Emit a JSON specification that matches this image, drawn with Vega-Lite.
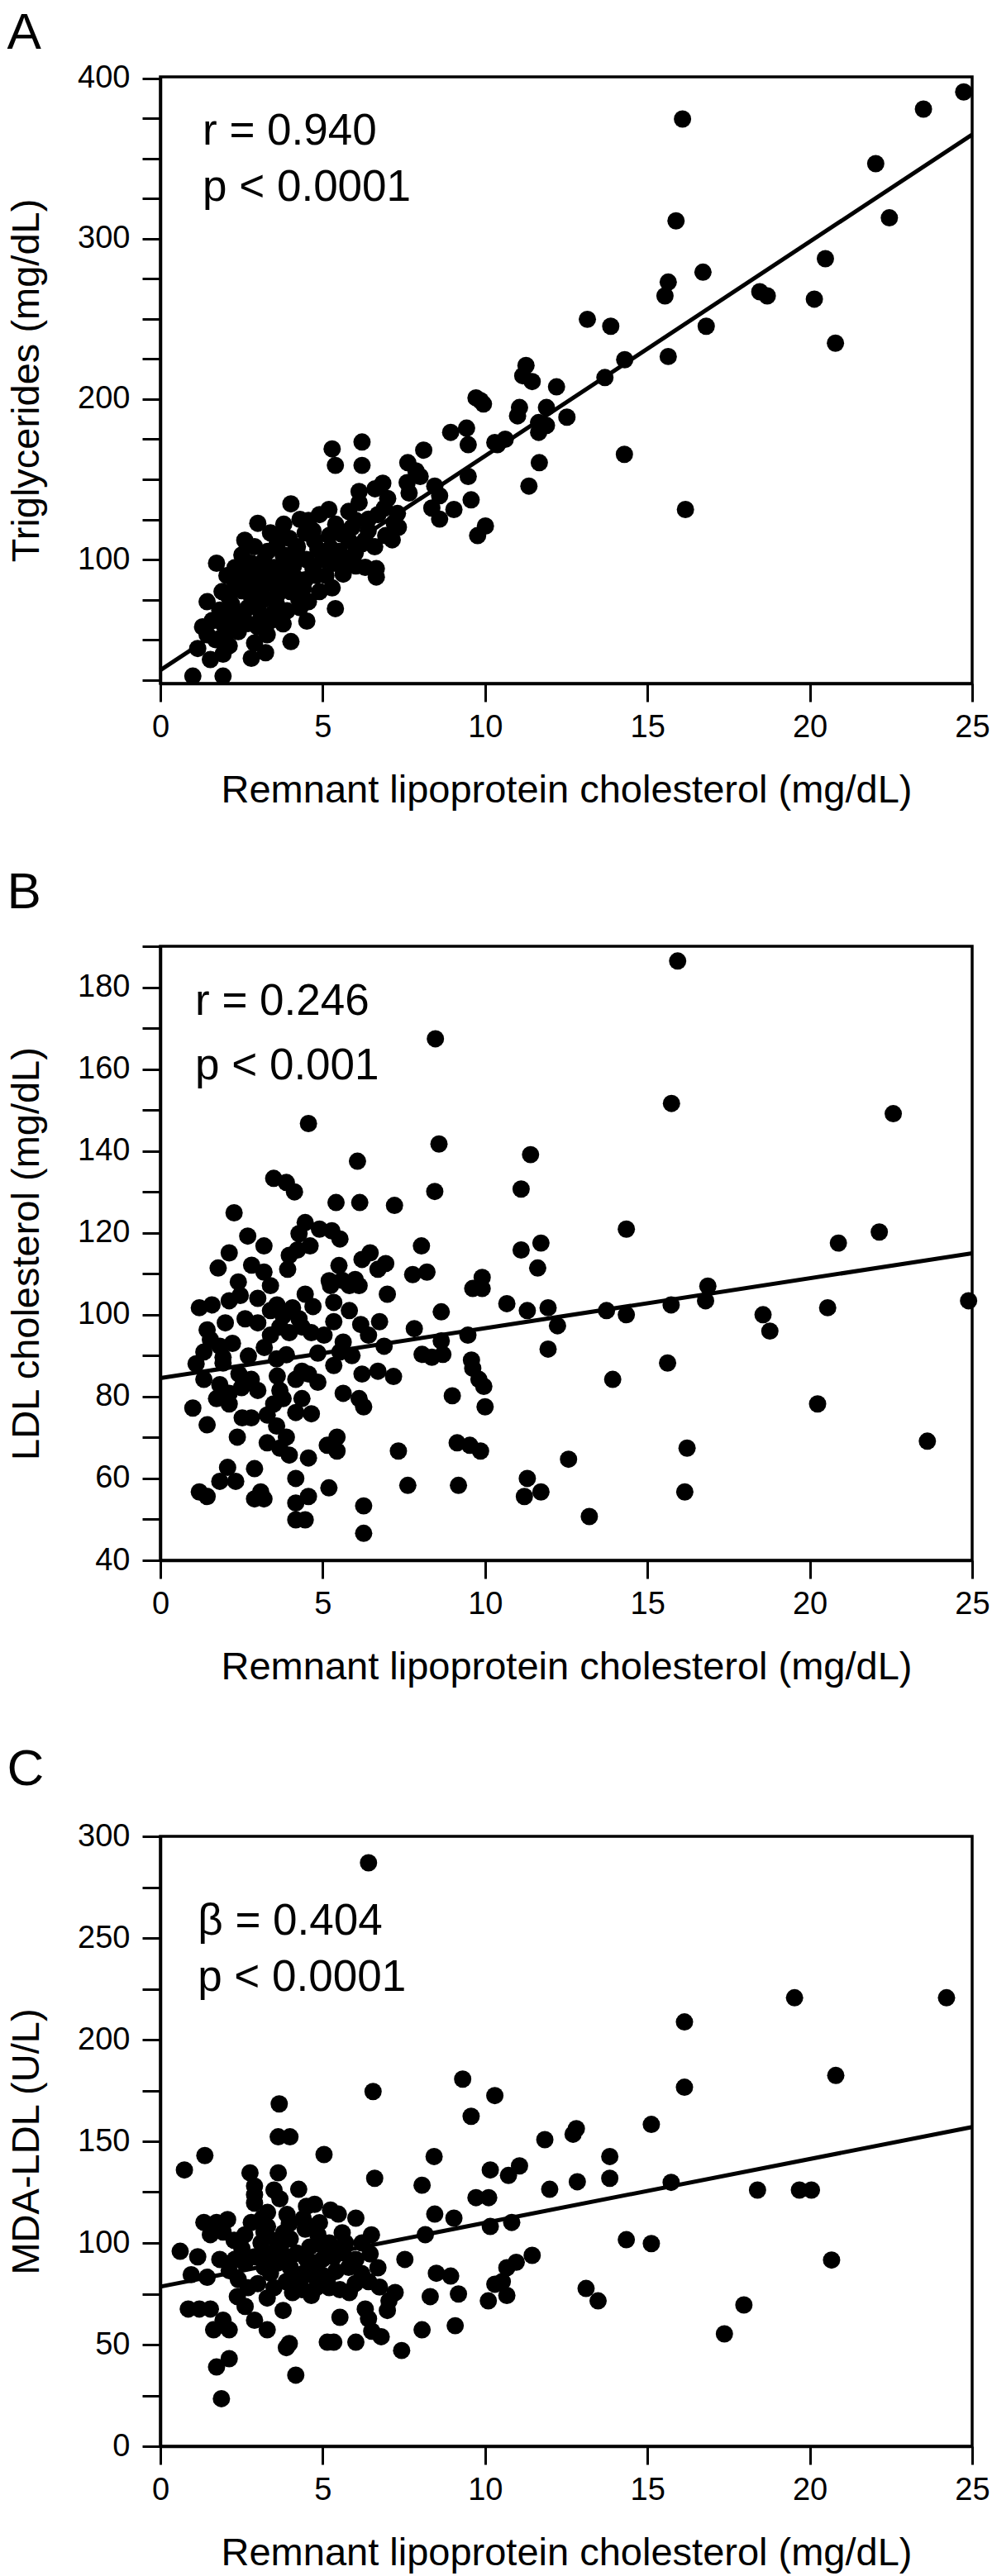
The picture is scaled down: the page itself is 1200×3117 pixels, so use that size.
{
  "$schema": "https://vega.github.io/schema/vega-lite/v6.json",
  "padding": {"left": 6, "top": 7, "right": 5, "bottom": 0},
  "background": "white",
  "spacing": 66,
  "config": {
    "view": {"stroke": "black", "strokeWidth": 3.5},
    "font": "Liberation Sans",
    "axis": {"domainColor": "black", "domainWidth": 3.5, "tickColor": "black", "tickWidth": 3, "tickSize": 22, "labelFont": "Liberation Sans", "labelFontSize": 38, "labelColor": "black", "titleFont": "Liberation Sans", "titleFontSize": 47, "titleFontWeight": "normal", "titleColor": "black", "grid": false, "labelOverlap": false, "labelFlush": false},
    "axisX": {"labelPadding": 12, "titlePadding": 34},
    "axisY": {"labelPadding": 15, "titlePadding": 37},
    "title": {"font": "Liberation Sans", "fontSize": 62, "fontWeight": "normal", "color": "black", "anchor": "start", "frame": "bounds"}
  },
  "datasets": {
    "a": [
      {"x":24.74,"y":391.6},{"x":23.5,"y":380.9},{"x":16.08,"y":374.7},{"x":22.03,"y":346.9},{"x":22.45,"y":313.1},{"x":15.88,"y":311.2},{"x":20.48,"y":287.6},{"x":16.71,"y":279.2},{"x":15.64,"y":273.0},{"x":15.54,"y":264.4},{"x":18.46,"y":267.0},{"x":18.69,"y":264.4},{"x":20.14,"y":262.4},{"x":13.15,"y":249.8},{"x":13.87,"y":245.5},{"x":16.81,"y":245.5},{"x":20.79,"y":234.9},{"x":15.64,"y":226.6},{"x":14.3,"y":224.6},{"x":11.26,"y":221},{"x":13.69,"y":213.5},
      {"x":11.16,"y":214.6},{"x":11.45,"y":211},{"x":12.2,"y":207.7},{"x":11.06,"y":194.8},{"x":11.0,"y":189.6},{"x":11.89,"y":194.8},{"x":11.65,"y":185.4},{"x":11.89,"y":183.6},{"x":11.65,"y":179.3},{"x":12.52,"y":188.8},{"x":10.62,"y":175},{"x":10.38,"y":171.6},{"x":14.29,"y":165.6},{"x":11.67,"y":160.4},{"x":11.35,"y":145.8},{"x":16.17,"y":131.2},
      {"x":9.86,"y":199.1},{"x":9.72,"y":200.8},{"x":9.95,"y":197},{"x":8.94,"y":179.3},{"x":9.43,"y":181.9},{"x":9.48,"y":171.6},{"x":10.3,"y":173},{"x":6.21,"y":173.3},{"x":5.29,"y":169},{"x":5.39,"y":158.7},{"x":6.21,"y":158.7},{"x":8.11,"y":168.2},{"x":7.62,"y":160.4},{"x":7.87,"y":155.3},{"x":8.0,"y":151.8},{"x":9.48,"y":151.8},{"x":6.85,"y":147.6},{"x":6.61,"y":144.1},{"x":6.12,"y":142.4},{"x":8.45,"y":145.8},{"x":8.6,"y":139.8},{"x":7.66,"y":141.5},{"x":9.57,"y":137.2},{"x":6.12,"y":135.5},{"x":5.19,"y":131.2},{"x":4.02,"y":134.7},{"x":6.9,"y":132.1},{"x":7.3,"y":128.7},{"x":8.36,"y":132.1},{"x":8.6,"y":125.2},{"x":9.04,"y":131.2},{"x":6.41,"y":125.2},{"x":6.02,"y":124.4},{"x":7.2,"y":123},{"x":4.56,"y":124.4},{"x":7.33,"y":120.1},{"x":10.01,"y":120.9},{"x":9.77,"y":114.9},{"x":6.94,"y":114.9},{"x":7.14,"y":112.3},{"x":6.21,"y":109.8},{"x":6.6,"y":108},{"x":5.2,"y":114.9},{"x":5.58,"y":115.8},{"x":5.8,"y":112},{"x":4.46,"y":116.6},{"x":4.75,"y":111.5},{"x":4.85,"y":106.3},{"x":3.0,"y":122.6},{"x":3.39,"y":116.6},{"x":3.68,"y":115.8},{"x":3.97,"y":113.2},{"x":4.22,"y":108},{"x":5.24,"y":107.2},{"x":5.63,"y":101.2},{"x":5.34,"y":97.7},{"x":5.63,"y":90.9},{"x":6.02,"y":96.0},{"x":6.31,"y":95.1},{"x":6.65,"y":94.3},{"x":6.65,"y":89.1},{"x":5.29,"y":82.3},{"x":5.39,"y":69.4},{"x":4.7,"y":94.3},{"x":4.46,"y":87.4},{"x":3.78,"y":102.9},{"x":4.07,"y":97.7},{"x":3.68,"y":94.3},{"x":3.19,"y":99.4},{"x":2.51,"y":102.9},{"x":2.8,"y":97.7},{"x":1.73,"y":97.7},{"x":3.0,"y":90.9},{"x":2.61,"y":87.4},{"x":3.39,"y":85.7},{"x":3.88,"y":84},{"x":4.56,"y":73.7},{"x":4.26,"y":75.4},{"x":4.51,"y":61.6},{"x":2.51,"y":80.5},{"x":2.8,"y":77.1},{"x":3.19,"y":75.4},{"x":3.58,"y":72},{"x":3.48,"y":66.8},{"x":3.78,"y":59.9},{"x":3.29,"y":53.1},{"x":2.9,"y":47.9},{"x":3.24,"y":41.9},{"x":2.8,"y":38.4},{"x":4.02,"y":48.8},{"x":1.44,"y":73.7},{"x":1.83,"y":68.5},{"x":2.12,"y":66.8},{"x":1.93,"y":59.9},{"x":2.32,"y":58.2},{"x":1.44,"y":53.1},{"x":1.15,"y":44.5},{"x":1.54,"y":37.6},{"x":1.93,"y":41},{"x":2.12,"y":46.2},{"x":1.0,"y":27.3},{"x":1.93,"y":27.3},
      {"x":3.5,"y":95},{"x":3.3,"y":90},{"x":3.9,"y":92},{"x":4.2,"y":88},{"x":2.9,"y":85},{"x":3.1,"y":80},{"x":3.6,"y":78},{"x":4.0,"y":80},{"x":4.4,"y":82},{"x":2.6,"y":93},{"x":3.3,"y":105},{"x":4.1,"y":104},{"x":4.5,"y":100},{"x":2.2,"y":72},{"x":2.5,"y":65},{"x":2.7,"y":60},{"x":3.0,"y":70},{"x":2.4,"y":55},{"x":1.7,"y":50},{"x":2.0,"y":52},{"x":2.2,"y":62},{"x":3.7,"y":88},{"x":3.1,"y":64},{"x":4.8,"y":90},{"x":5.0,"y":100},{"x":5.5,"y":105},{"x":5.9,"y":120},{"x":6.4,"y":118},{"x":6.7,"y":128},{"x":7.0,"y":138},{"x":7.6,"y":148},{"x":5.8,"y":130},{"x":4.7,"y":118},{"x":4.3,"y":125},{"x":3.6,"y":110},{"x":2.9,"y":108},{"x":3.2,"y":95},{"x":2.3,"y":85},{"x":1.9,"y":80},{"x":2.05,"y":90},
      {"x":2.3,"y":95},{"x":2.7,"y":70},{"x":3.4,"y":62},{"x":3.9,"y":68},{"x":4.3,"y":70},{"x":4.9,"y":80},{"x":5.1,"y":90},{"x":5.7,"y":98},{"x":6.0,"y":104},{"x":6.3,"y":112},{"x":5.4,"y":122},{"x":4.9,"y":128},{"x":3.8,"y":122},{"x":2.6,"y":112},{"x":3.0,"y":58},{"x":2.1,"y":77},{"x":1.6,"y":62},{"x":1.3,"y":58},{"x":4.1,"y":96},{"x":3.4,"y":88}
    ],
    "b": [
      {"x":8.47,"y":167.4},{"x":4.56,"y":146.7},{"x":8.58,"y":141.7},{"x":6.07,"y":137.5},{"x":3.49,"y":133.3},{"x":3.88,"y":132.3},{"x":4.13,"y":130},{"x":8.45,"y":130.1},{"x":2.27,"y":124.9},{"x":5.41,"y":127.4},{"x":6.14,"y":127.4},{"x":7.21,"y":126.7},{"x":4.46,"y":122.5},{"x":4.27,"y":119.8},{"x":4.9,"y":120.9},{"x":5.28,"y":120.5},{"x":5.53,"y":118.5},{"x":4.61,"y":116.8},{"x":4.22,"y":115.8},{"x":3.97,"y":114.5},{"x":3.92,"y":111.1},{"x":8.04,"y":116.8},{"x":6.46,"y":115.1},{"x":6.21,"y":113.5},{"x":6.94,"y":112.5},{"x":6.7,"y":111.1},{"x":2.69,"y":119.2},{"x":3.19,"y":116.8},{"x":2.12,"y":115.1},{"x":1.78,"y":111.4},{"x":2.81,"y":112.1},{"x":3.19,"y":110.4},{"x":7.77,"y":109.8},{"x":8.21,"y":110.4},{"x":6.0,"y":108.6},{"x":5.6,"y":108.4},{"x":5.2,"y":108.3},{"x":9.91,"y":109.1},
      {"x":15.93,"y":186.4},{"x":15.74,"y":151.6},{"x":22.57,"y":149.1},{"x":11.4,"y":139.1},{"x":11.11,"y":130.7},{"x":14.35,"y":120.9},{"x":22.14,"y":120.2},{"x":20.88,"y":117.5},{"x":11.11,"y":115.8},{"x":11.72,"y":117.5},{"x":11.62,"y":111.4},
      {"x":1.2,"y":101.7},{"x":1.59,"y":102.4},{"x":2.12,"y":103.4},{"x":2.46,"y":104.7},{"x":3.0,"y":104},{"x":3.39,"y":107.1},{"x":2.61,"y":99},{"x":3.0,"y":98},{"x":3.39,"y":101},{"x":3.59,"y":102.4},{"x":3.78,"y":99.7},{"x":4.07,"y":101.7},{"x":4.27,"y":99},{"x":4.46,"y":105},{"x":4.36,"y":97},{"x":4.65,"y":95.6},{"x":5.04,"y":95},{"x":3.39,"y":95},{"x":3.68,"y":97},{"x":3.97,"y":95.6},{"x":5.24,"y":107.1},{"x":5.34,"y":103},{"x":5.82,"y":107.1},{"x":6.12,"y":107.1},{"x":5.82,"y":101},{"x":5.34,"y":98.3},{"x":6.17,"y":97.6},{"x":6.41,"y":95},{"x":6.75,"y":98.3},{"x":6.99,"y":105},{"x":6.89,"y":92.3},{"x":5.63,"y":93.3},{"x":5.53,"y":90.9},{"x":4.85,"y":90.6},{"x":3.88,"y":90.2},{"x":3.58,"y":89.2},{"x":2.71,"y":89.9},{"x":1.44,"y":96.3},{"x":1.54,"y":93.9},{"x":1.83,"y":92.3},{"x":1.34,"y":90.9},{"x":1.93,"y":89.6},{"x":2.22,"y":93},{"x":1.93,"y":88.2},{"x":5.34,"y":87.6},{"x":6.21,"y":85.5},{"x":6.7,"y":86.2},{"x":7.18,"y":84.9},{"x":7.82,"y":96.6},{"x":8.65,"y":100.7},{"x":8.06,"y":90.3},{"x":8.36,"y":89.6},{"x":8.7,"y":90.3},{"x":8.65,"y":93.6},{"x":9.47,"y":95},{"x":9.62,"y":106.4},{"x":9.91,"y":106.4},{"x":9.58,"y":88.9},{"x":9.62,"y":86.9},{"x":9.81,"y":84.2},{"x":9.96,"y":82.5},{"x":10.0,"y":77.5},{"x":8.99,"y":80.2},{"x":2.42,"y":85.5},{"x":1.34,"y":84.2},{"x":1.83,"y":82.9},{"x":2.12,"y":80.8},{"x":2.5,"y":82.2},{"x":2.8,"y":84.2},{"x":3.0,"y":81.5},{"x":1.73,"y":79.5},{"x":2.12,"y":78.2},{"x":1.0,"y":77.2},{"x":1.44,"y":73.1},{"x":2.52,"y":74.8},{"x":2.8,"y":74.8},{"x":3.29,"y":75.5},{"x":3.49,"y":78.2},{"x":3.68,"y":81.5},{"x":3.78,"y":79.5},{"x":4.17,"y":84.2},{"x":4.36,"y":86.2},{"x":4.56,"y":85.5},{"x":4.85,"y":83.5},{"x":4.36,"y":79.5},{"x":4.17,"y":76.1},{"x":4.65,"y":75.8},{"x":5.63,"y":80.8},{"x":6.12,"y":79.5},{"x":6.26,"y":77.5},{"x":3.58,"y":72.8},{"x":3.88,"y":70.1},{"x":3.29,"y":68.7},{"x":3.68,"y":67.4},{"x":3.97,"y":65.7},{"x":2.37,"y":70.1},{"x":4.56,"y":65},{"x":5.14,"y":68.1},{"x":5.44,"y":70.1},{"x":5.44,"y":66.7},{"x":7.33,"y":66.7},{"x":9.14,"y":68.7},{"x":9.53,"y":68.1},{"x":9.86,"y":66.7},{"x":2.07,"y":62.7},{"x":2.32,"y":59.3},{"x":1.83,"y":59.3},{"x":2.9,"y":62.4},{"x":1.2,"y":56.7},{"x":1.44,"y":55.6},{"x":2.9,"y":55},{"x":3.19,"y":55},{"x":3.09,"y":56.7},{"x":4.17,"y":60},{"x":4.17,"y":54},{"x":4.56,"y":55.6},{"x":4.17,"y":49.9},{"x":4.46,"y":49.9},{"x":5.19,"y":57.7},{"x":6.26,"y":53.3},{"x":6.26,"y":46.6},{"x":7.62,"y":58.3},{"x":9.18,"y":58.3},
      {"x":10.67,"y":102.7},{"x":11.3,"y":101},{"x":11.94,"y":101.7},{"x":12.23,"y":97.3},{"x":11.94,"y":91.6},{"x":13.74,"y":101},{"x":14.35,"y":100},{"x":15.73,"y":102.4},{"x":16.86,"y":107},{"x":16.79,"y":103.4},{"x":18.56,"y":100},{"x":18.77,"y":96},{"x":20.55,"y":101.7},{"x":24.89,"y":103.4},{"x":15.62,"y":88.2},{"x":13.93,"y":84.2},{"x":20.24,"y":78.2},{"x":23.62,"y":69.1},{"x":16.22,"y":67.4},{"x":12.57,"y":64.7},{"x":11.3,"y":60},{"x":11.21,"y":55.6},{"x":11.72,"y":56.7},{"x":16.15,"y":56.7},{"x":13.21,"y":50.7},
      {"x":2.0,"y":98},{"x":3.2,"y":92},{"x":4.7,"y":102},{"x":5.5,"y":112},{"x":2.4,"y":108},{"x":1.1,"y":88},{"x":3.6,"y":85},{"x":5.9,"y":90}
    ],
    "c": [
      {"x":6.41,"y":287},{"x":3.66,"y":168.4},{"x":3.63,"y":152.2},{"x":3.99,"y":152.2},{"x":6.55,"y":174.5},{"x":9.31,"y":180.6},{"x":9.57,"y":162.3},{"x":10.3,"y":172.5},{"x":1.37,"y":143},{"x":5.04,"y":143.5},{"x":8.43,"y":142.5},
      {"x":19.53,"y":220.6},{"x":24.21,"y":220.6},{"x":16.14,"y":208.7},{"x":16.14,"y":176.6},{"x":20.8,"y":182.4},{"x":15.12,"y":158.3},{"x":12.81,"y":156.2},{"x":12.71,"y":153.5},{"x":11.84,"y":150.8},{"x":13.84,"y":142.5},
      {"x":0.74,"y":135.9},{"x":2.76,"y":134.5},{"x":3.63,"y":134.5},{"x":6.6,"y":131.8},{"x":10.16,"y":135.9},{"x":4.26,"y":126.4},{"x":8.06,"y":128.4},{"x":2.9,"y":123.7},{"x":2.9,"y":119.6},{"x":3.68,"y":121.7},{"x":4.75,"y":119},{"x":5.24,"y":116.2},{"x":5.48,"y":114.2},{"x":9.72,"y":122.3},{"x":10.11,"y":122.3},{"x":6.02,"y":112.2},{"x":8.45,"y":114.2},{"x":9.04,"y":112.2},{"x":8.16,"y":104.1},{"x":10.16,"y":108.1},{"x":1.34,"y":110.1},{"x":1.73,"y":110.1},{"x":2.07,"y":111.5},{"x":1.54,"y":104.1},{"x":1.93,"y":105.4},{"x":2.27,"y":101.3},{"x":2.8,"y":110.1},{"x":3.14,"y":112.2},{"x":3.19,"y":105.4},{"x":3.58,"y":101.3},{"x":3.97,"y":109.5},{"x":4.46,"y":106.8},{"x":4.85,"y":104.1},{"x":4.99,"y":98.6},{"x":6.21,"y":100},{"x":0.61,"y":95.9},{"x":1.15,"y":93.2},{"x":1.83,"y":91.9},{"x":2.51,"y":97.3},{"x":2.9,"y":93.2},{"x":3.88,"y":93.2},{"x":5.34,"y":93.2},{"x":5.63,"y":95.2},{"x":6.02,"y":91.9},{"x":6.46,"y":94.6},{"x":6.7,"y":87.8},{"x":7.53,"y":91.9},{"x":0.95,"y":84.4},{"x":1.44,"y":83.1},{"x":2.12,"y":86.4},{"x":3.39,"y":85.1},{"x":3.88,"y":81},{"x":4.36,"y":77},{"x":4.07,"y":75.6},{"x":4.65,"y":74.2},{"x":5.14,"y":81},{"x":5.53,"y":77},{"x":5.82,"y":75.6},{"x":6.41,"y":81},{"x":6.75,"y":78.3},{"x":7.23,"y":75.6},{"x":7.04,"y":71.5},{"x":8.5,"y":85.1},{"x":8.94,"y":83.7},{"x":9.18,"y":74.9},{"x":8.31,"y":73.6},{"x":10.1,"y":71.5},{"x":10.3,"y":79.7},{"x":2.37,"y":73.6},{"x":2.61,"y":68.8},{"x":0.86,"y":67.5},{"x":1.2,"y":67.5},{"x":1.54,"y":67.5},{"x":3.29,"y":72.9},{"x":3.78,"y":66.8},{"x":6.31,"y":67.5},{"x":6.99,"y":66.8},{"x":5.53,"y":63.4},{"x":6.41,"y":62.7},{"x":1.93,"y":62},{"x":2.9,"y":62},{"x":1.64,"y":57.3},{"x":2.12,"y":57.3},{"x":3.29,"y":57.3},{"x":6.51,"y":56.6},{"x":6.8,"y":53.9},{"x":8.06,"y":57.3},{"x":9.08,"y":59.3},{"x":3.97,"y":50.5},{"x":3.88,"y":48.5},{"x":5.14,"y":51.2},{"x":5.34,"y":51.2},{"x":6.02,"y":51.2},{"x":7.43,"y":47.1},{"x":1.73,"y":39},{"x":2.12,"y":43.1},{"x":4.17,"y":35},{"x":1.88,"y":23.4},
      {"x":3.4,"y":95},{"x":3.6,"y":90},{"x":4.0,"y":88},{"x":4.2,"y":95},{"x":4.5,"y":92},{"x":4.8,"y":88},{"x":5.0,"y":84},{"x":4.4,"y":85},{"x":3.2,"y":88},{"x":3.0,"y":80},{"x":3.5,"y":78},{"x":4.6,"y":98},{"x":5.2,"y":100},{"x":5.8,"y":88},{"x":6.2,"y":85},{"x":4.0,"y":102},{"x":3.3,"y":115},{"x":4.4,"y":112},{"x":4.9,"y":110},{"x":5.6,"y":105},{"x":2.6,"y":90},{"x":2.4,"y":82},{"x":3.1,"y":100},{"x":4.3,"y":80},{"x":5.0,"y":92},{"x":5.4,"y":86},{"x":6.0,"y":80},{"x":4.8,"y":78},{"x":2.9,"y":128},{"x":3.5,"y":126},
      {"x":3.8,"y":105},{"x":4.6,"y":108},{"x":5.3,"y":96},{"x":5.7,"y":100},{"x":3.2,"y":92},{"x":4.1,"y":84},{"x":4.7,"y":84},{"x":5.2,"y":78},{"x":3.7,"y":98},{"x":3.3,"y":108},{"x":2.6,"y":104},{"x":2.3,"y":92},{"x":6.5,"y":104},{"x":4.5,"y":118},{"x":3.9,"y":114},{"x":2.7,"y":78},
      {"x":13.84,"y":131.8},{"x":11.06,"y":137.9},{"x":10.72,"y":133.2},{"x":11.99,"y":126.4},{"x":12.84,"y":130.1},{"x":15.73,"y":129.8},{"x":18.39,"y":126},{"x":19.68,"y":126},{"x":20.05,"y":126},{"x":10.82,"y":110.1},{"x":14.35,"y":101.6},{"x":15.12,"y":99.7},{"x":20.67,"y":91.6},{"x":11.45,"y":93.9},{"x":10.96,"y":90.5},{"x":10.67,"y":87.8},{"x":10.53,"y":81},{"x":13.11,"y":77.6},{"x":13.48,"y":71.5},{"x":10.67,"y":74.2},{"x":17.97,"y":69.5},{"x":17.37,"y":55.3}
    ]
  },
  "vconcat": [
    {
      "title": {"text": "A", "offset": 4},
      "width": 982, "height": 734,
      "encoding": {
        "x": {"field": "x", "type": "quantitative", "scale": {"domain": [0, 25], "nice": false, "zero": false}, "axis": {"values": [0,5,10,15,20,25], "title": "Remnant lipoprotein cholesterol (mg/dL)"}},
        "y": {"field": "y", "type": "quantitative", "scale": {"domain": [22.7, 401], "nice": false, "zero": false}, "axis": {"values": [25,50,75,100,125,150,175,200,225,250,275,300,325,350,375,400], "labelExpr": "datum.value % 100 === 0 ? datum.label : ''", "title": "Triglycerides (mg/dL)"}}
      },
      "layer": [
        {"data": {"name": "a"}, "mark": {"type": "circle", "size": 440, "color": "black", "opacity": 1}},
        {"data": {"values": [{"x": 0, "y": 31}, {"x": 25, "y": 365}]}, "mark": {"type": "line", "color": "black", "strokeWidth": 5}},
        {"data": {"values": [{"x": 1.3, "y": 358.8, "t": "r = 0.940"}, {"x": 1.3, "y": 323.7, "t": "p < 0.0001"}]}, "mark": {"type": "text", "align": "left", "baseline": "alphabetic", "fontSize": 53, "font": "Liberation Sans", "color": "black"}, "encoding": {"text": {"field": "t"}}}
      ]
    },
    {
      "title": {"text": "B", "offset": 14},
      "width": 982, "height": 743,
      "encoding": {
        "x": {"field": "x", "type": "quantitative", "scale": {"domain": [0, 25], "nice": false, "zero": false}, "axis": {"values": [0,5,10,15,20,25], "title": "Remnant lipoprotein cholesterol (mg/dL)"}},
        "y": {"field": "y", "type": "quantitative", "scale": {"domain": [40, 190], "nice": false, "zero": false}, "axis": {"values": [40,50,60,70,80,90,100,110,120,130,140,150,160,170,180,190], "labelExpr": "datum.value % 20 === 0 ? datum.label : ''", "title": "LDL cholesterol (mg/dL)"}}
      },
      "layer": [
        {"data": {"name": "b"}, "mark": {"type": "circle", "size": 440, "color": "black", "opacity": 1}},
        {"data": {"values": [{"x": 0, "y": 84.5}, {"x": 25, "y": 115}]}, "mark": {"type": "line", "color": "black", "strokeWidth": 5}},
        {"data": {"values": [{"x": 1.07, "y": 173.3, "t": "r = 0.246"}, {"x": 1.07, "y": 157.4, "t": "p < 0.001"}]}, "mark": {"type": "text", "align": "left", "baseline": "alphabetic", "fontSize": 53, "font": "Liberation Sans", "color": "black"}, "encoding": {"text": {"field": "t"}}}
      ]
    },
    {
      "title": {"text": "C", "offset": 30},
      "width": 982, "height": 738,
      "encoding": {
        "x": {"field": "x", "type": "quantitative", "scale": {"domain": [0, 25], "nice": false, "zero": false}, "axis": {"values": [0,5,10,15,20,25], "title": "Remnant lipoprotein cholesterol (mg/dL)"}},
        "y": {"field": "y", "type": "quantitative", "scale": {"domain": [0, 300], "nice": false, "zero": false}, "axis": {"values": [0,25,50,75,100,125,150,175,200,225,250,275,300], "labelExpr": "datum.value % 50 === 0 ? datum.label : ''", "title": "MDA-LDL (U/L)"}}
      },
      "layer": [
        {"data": {"name": "c"}, "mark": {"type": "circle", "size": 440, "color": "black", "opacity": 1}},
        {"data": {"values": [{"x": 0, "y": 78.5}, {"x": 25, "y": 157}]}, "mark": {"type": "line", "color": "black", "strokeWidth": 5}},
        {"data": {"values": [{"x": 1.15, "y": 251.6, "t": "β = 0.404"}, {"x": 1.15, "y": 224, "t": "p < 0.0001"}]}, "mark": {"type": "text", "align": "left", "baseline": "alphabetic", "fontSize": 53, "font": "Liberation Sans", "color": "black"}, "encoding": {"text": {"field": "t"}}}
      ]
    }
  ]
}
